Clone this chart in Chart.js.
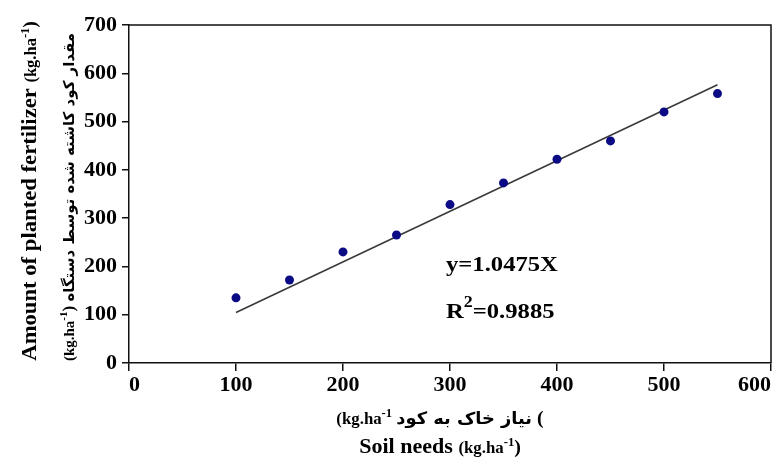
<!DOCTYPE html>
<html>
<head>
<meta charset="utf-8">
<script src="https://cdn.jsdelivr.net/npm/chart.js@4/dist/chart.umd.min.js"></script>
<style>
  html, body { margin: 0; padding: 0; background: #fff; }
  #wrap { width: 781px; height: 468px; }
</style>
</head>
<body>
<div id="wrap"><canvas id="chart"></canvas></div>
<script>
// values
const soilNeeds = [100, 150, 200, 250, 300, 350, 400, 450, 500, 550];
const plantedAmount = [135, 172, 230, 265, 328, 373, 422, 460, 520, 558];
const trendX = [100, 550];
const trendY = [104.75, 576.1];
const xTicks = [0, 100, 200, 300, 400, 500, 600];
const yTicks = [0, 100, 200, 300, 400, 500, 600, 700];

const serif = '"Liberation Serif", "Times New Roman", serif';
const persianFont = '"DejaVu Sans", sans-serif';

// draw a run of text pieces (some raised as superscripts); align 'center' or 'left'
function drawRun(ctx, parts, x0, y, align, stretch) {
    stretch = stretch || 1;
    let total = 0;
    parts.forEach(p => { ctx.font = p.font; total += ctx.measureText(p.text).width; });
    ctx.save();
    ctx.translate(x0, y);
    ctx.scale(stretch, 1);
    let x = align === 'left' ? 0 : -total / 2;
    ctx.textAlign = 'left';
    ctx.textBaseline = 'alphabetic';
    parts.forEach(p => {
        ctx.font = p.font;
        ctx.direction = p.rtl ? 'rtl' : 'ltr';
        const w = ctx.measureText(p.text).width;
        if (p.rtl) {
            ctx.textAlign = 'right';
            ctx.fillText(p.text, x + w, -(p.up || 0));
            ctx.textAlign = 'left';
        } else {
            ctx.fillText(p.text, x, -(p.up || 0));
        }
        ctx.direction = 'ltr';
        x += w;
    });
    ctx.restore();
}

function unitParts(size) {
    return [
        { text: '(kg.ha', font: 'bold ' + size + 'px ' + serif },
        { text: '-1', font: 'bold ' + Math.round(size * 0.72) + 'px ' + serif, up: Math.round(size * 0.45) },
        { text: ')', font: 'bold ' + (size + 3) + 'px ' + serif }
    ];
}

const decorPlugin = {
    id: 'decor',
    afterDraw(chart) {
        const ctx = chart.ctx;
        const area = chart.chartArea;
        ctx.save();
        ctx.fillStyle = '#000';

        // top and right frame
        ctx.strokeStyle = '#111';
        ctx.lineWidth = 1.5;
        ctx.beginPath();
        ctx.moveTo(area.left, area.top);
        ctx.lineTo(area.right, area.top);
        ctx.lineTo(area.right, area.bottom);
        ctx.stroke();

        // equation
        drawRun(ctx, [{ text: 'y=1.0475X', font: 'bold 22px ' + serif }], 446, 271, 'left', 1.12);
        drawRun(ctx, [
            { text: 'R', font: 'bold 22px ' + serif },
            { text: '2', font: 'bold 16px ' + serif, up: 11 },
            { text: '=0.9885', font: 'bold 22px ' + serif }
        ], 446, 318, 'left', 1.12);

        // x axis titles
        drawRun(ctx, [
            { text: '(kg.ha', font: 'bold 16px ' + serif },
            { text: '-1', font: 'bold 12px ' + serif, up: 7 },
            { text: ' ', font: 'bold 16px ' + serif },
            { text: 'نیاز خاک به کود', font: 'bold 17px ' + persianFont, rtl: true },
            { text: ' (', font: 'bold 19px ' + serif }
        ], 440, 424, 'center', 1.05);
        drawRun(ctx, [{ text: 'Soil needs ', font: 'bold 21px ' + serif }].concat(unitParts(16)), 440, 453, 'center', 1.05);

        // y axis titles, rotated
        ctx.save();
        ctx.translate(36, 191);
        ctx.rotate(-Math.PI / 2);
        drawRun(ctx, [{ text: 'Amount of planted fertilizer ', font: 'bold 22px ' + serif }].concat(unitParts(16)), 0, 0, 'center', 1.03);
        ctx.restore();

        ctx.save();
        ctx.translate(74, 197);
        ctx.rotate(-Math.PI / 2);
        drawRun(ctx, [
            { text: '(kg.ha', font: 'bold 15px ' + serif },
            { text: '-1', font: 'bold 11px ' + serif, up: 7 },
            { text: ') ', font: 'bold 17px ' + serif },
            { text: 'مقدار کود کاشته شده توسط دستگاه', font: 'bold 15px ' + persianFont, rtl: true }
        ], 0, 0, 'center', 1);
        ctx.restore();

        ctx.restore();
    }
};

const tickFont = { family: serif, size: 22, weight: 'bold' };

new Chart(document.getElementById('chart'), {
    type: 'scatter',
    data: {
        datasets: [
            {
                label: 'Measured',
                data: soilNeeds.map((x, i) => ({ x: x, y: plantedAmount[i] })),
                backgroundColor: '#0b0b86',
                borderWidth: 0,
                pointRadius: 4.5
            },
            {
                type: 'line',
                label: 'Trend',
                data: trendX.map((x, i) => ({ x: x, y: trendY[i] })),
                borderColor: '#3a3a3a',
                borderWidth: 1.6,
                pointRadius: 0,
                fill: false
            }
        ]
    },
    options: {
        responsive: true,
        maintainAspectRatio: false,
        animation: false,
        devicePixelRatio: 1,
        layout: { padding: { top: 25, right: 10, left: 0, bottom: 0 } },
        plugins: {
            legend: { display: false },
            tooltip: { enabled: false }
        },
        scales: {
            x: {
                type: 'linear',
                min: 0,
                max: 600,
                afterBuildTicks: s => { s.ticks = xTicks.map(v => ({ value: v })); },
                afterFit: s => { s.height = 105; s.paddingLeft = 0; s.paddingRight = 0; },
                ticks: { color: '#000', font: tickFont, padding: 1, maxRotation: 0, align: 'inner' },
                grid: { drawOnChartArea: false, tickLength: 8, color: '#111', lineWidth: 1.5 },
                border: { color: '#111', width: 1.5 }
            },
            y: {
                min: 0,
                max: 700,
                afterBuildTicks: s => { s.ticks = yTicks.map(v => ({ value: v })); },
                afterFit: s => { s.width = 129; s.paddingTop = 0; s.paddingBottom = 0; },
                ticks: { color: '#000', font: tickFont, padding: 5 },
                grid: { drawOnChartArea: false, tickLength: 7, color: '#111', lineWidth: 1.5 },
                border: { color: '#111', width: 1.5 }
            }
        }
    },
    plugins: [decorPlugin]
});
</script>
</body>
</html>
